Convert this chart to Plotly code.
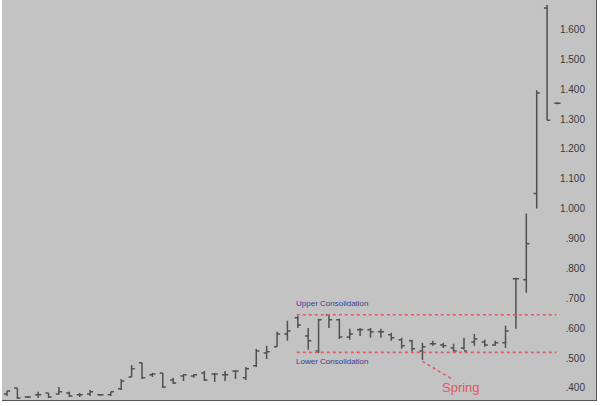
import plotly.graph_objects as go

# Bar index (one bar per period)
bars = list(range(54))

opens = [0.380, 0.400, 0.370, 0.377, 0.383, 0.380, 0.383, 0.377, 0.380, 0.377,
         0.377, 0.397, 0.437, 0.484, 0.444, 0.450, 0.427, 0.440, 0.440, 0.450,
         0.447, 0.444, 0.457, 0.434, 0.474, 0.517, 0.538, 0.581, 0.635, 0.574,
         0.524, 0.645, 0.628, 0.571, 0.595, 0.595, 0.588, 0.578, 0.561, 0.558,
         0.524, 0.548, 0.544, 0.534, 0.534, 0.554, 0.554, 0.544, 0.551, 0.766,
         0.762, 1.051, 1.672, 1.353]
highs = [0.390, 0.400, 0.373, 0.387, 0.383, 0.403, 0.387, 0.383, 0.393, 0.380,
         0.387, 0.430, 0.477, 0.484, 0.450, 0.450, 0.434, 0.447, 0.447, 0.457,
         0.450, 0.457, 0.457, 0.470, 0.531, 0.541, 0.588, 0.625, 0.642, 0.601,
         0.632, 0.648, 0.632, 0.598, 0.601, 0.601, 0.598, 0.585, 0.568, 0.561,
         0.551, 0.558, 0.551, 0.548, 0.568, 0.581, 0.561, 0.558, 0.608, 0.769,
         0.984, 1.397, 1.682, 1.356]
lows = [0.373, 0.363, 0.366, 0.366, 0.366, 0.377, 0.370, 0.370, 0.373, 0.373,
        0.373, 0.393, 0.437, 0.430, 0.437, 0.400, 0.413, 0.423, 0.434, 0.423,
        0.420, 0.423, 0.430, 0.427, 0.470, 0.497, 0.538, 0.558, 0.601, 0.528,
        0.517, 0.601, 0.564, 0.561, 0.574, 0.568, 0.568, 0.558, 0.531, 0.521,
        0.494, 0.541, 0.534, 0.517, 0.528, 0.541, 0.538, 0.541, 0.534, 0.598,
        0.719, 1.001, 1.296, 1.350]
closes = [0.390, 0.366, 0.370, 0.377, 0.370, 0.387, 0.373, 0.377, 0.387, 0.377,
          0.387, 0.423, 0.464, 0.434, 0.447, 0.403, 0.417, 0.444, 0.444, 0.427,
          0.447, 0.444, 0.457, 0.464, 0.524, 0.521, 0.581, 0.591, 0.611, 0.558,
          0.628, 0.628, 0.571, 0.581, 0.595, 0.588, 0.588, 0.568, 0.541, 0.531,
          0.538, 0.548, 0.541, 0.524, 0.524, 0.564, 0.544, 0.551, 0.591, 0.766,
          0.883, 1.387, 1.296, 1.353]

tick_vals = [0.4, 0.5, 0.6, 0.7, 0.8, 0.9, 1.0, 1.1, 1.2, 1.3, 1.4, 1.5, 1.6]
tick_text = [".400", ".500", ".600", ".700", ".800", ".900", "1.000", "1.100",
             "1.200", "1.300", "1.400", "1.500", "1.600"]

upper_level = 0.645
lower_level = 0.519
level_start, level_end = 27.9, 52.9
spring_bar = 40

fig = go.Figure(go.Ohlc(
    x=bars, open=opens, high=highs, low=lows, close=closes,
    increasing=dict(line=dict(color="#505050", width=1.5)),
    decreasing=dict(line=dict(color="#505050", width=1.5)),
    tickwidth=0.3, showlegend=False, hoverinfo="skip",
))

red = "#e2586a"
for lvl in (upper_level, lower_level):
    fig.add_shape(type="line", xref="x", yref="y", x0=level_start, x1=level_end,
                  y0=lvl, y1=lvl, line=dict(color=red, width=1.6, dash="3px,3px"))

# Spring pointer
fig.add_shape(type="line", xref="x", yref="y", x0=spring_bar, x1=spring_bar + 3,
              y0=lows[spring_bar] - 0.005, y1=0.427,
              line=dict(color=red, width=1.6, dash="3px,3px"))

blue = "#3c3c96"
fig.add_annotation(x=level_start, y=0.682, text="Upper Consolidation", showarrow=False,
                   xanchor="left", yanchor="middle", xshift=-3,
                   font=dict(family="Liberation Sans, Arial", size=8, color=blue))
fig.add_annotation(x=level_start, y=0.487, text="Lower Consolidation", showarrow=False,
                   xanchor="left", yanchor="middle", xshift=-3,
                   font=dict(family="Liberation Sans, Arial", size=8, color=blue))
fig.add_annotation(x=43.7, y=0.400, text="Spring", showarrow=False,
                   xanchor="center", yanchor="middle",
                   font=dict(family="Liberation Sans, Arial", size=13, color=red))

fig.update_layout(
    width=600, height=406,
    margin=dict(l=2, r=4, t=0, b=6, autoexpand=False),
    paper_bgcolor="#ffffff", plot_bgcolor="#c3c3c3",
    xaxis=dict(range=[-0.48, 56.71], showgrid=False, zeroline=False,
               showticklabels=False, ticks="", rangeslider=dict(visible=False),
               showline=True, linecolor="#555555", linewidth=1),
    yaxis=dict(range=[0.3597, 1.6987], side="right", showgrid=False, zeroline=False,
               tickvals=tick_vals, ticktext=tick_text, ticks="",
               ticklabelposition="inside", ticklabelstandoff=10,
               tickfont=dict(family="Liberation Sans, Arial", size=10, color="#3a3a3a"),
               showline=True, linecolor="#555555", linewidth=1),
)

fig.write_html("out.html", config={"displayModeBar": False},
               post_script="document.body.style.margin='0';")
